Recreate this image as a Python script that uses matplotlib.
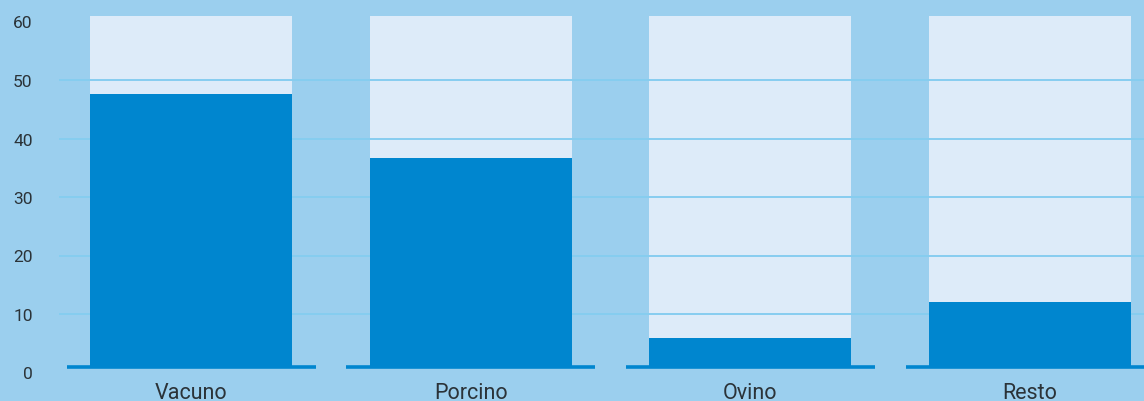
import numpy as np
import matplotlib
matplotlib.use("Agg")
import matplotlib.pyplot as plt

# data
categories = ["Vacuno", "Porcino", "Ovino", "Resto"]
values = [47.6, 36.7, 5.9, 12.0]
full = 61        # light background bars
base = 0.95      # where bars sit (baseline)
yticks = [0, 10, 20, 30, 40, 50, 60]
grid_vals = [10, 20, 30, 40, 50]

bg = "#9bcfee"
light = "#ddebf9"
dark = "#0086cf"
gridc = "#86cdf0"
txt = "#2b3338"

plt.rcParams['font.family'] = ['Roboto', 'DejaVu Sans']

W, H = 1144, 402
fig = plt.figure(figsize=(W/100, H/100), dpi=100, facecolor=bg)
left_px, bot_px = 59, 26
ax = fig.add_axes([left_px/W, bot_px/H, 1 - left_px/W, 1 - bot_px/H])
ax.set_facecolor(bg)

step = 279.7
c0 = 191
ax.set_xlim((left_px - c0)/step, (W - c0)/step)
ppu = 5.85
zero_px = 373.5
ax.set_ylim((zero_px - (H - bot_px))/ppu, zero_px/ppu)

x = np.arange(len(categories))
bw = 202/step
ax.bar(x, [full - base]*len(x), bottom=base, width=bw, color=light, zorder=1)
for g in grid_vals:
    ax.axhline(g, color=gridc, lw=1.4, zorder=2)
ax.bar(x, np.array(values) - base, bottom=base, width=bw, color=dark, zorder=3)
seg = 249/step
ax.hlines([base]*len(x), x - seg/2, x + seg/2, color=dark, lw=2.6, zorder=4, clip_on=False)

for s in ax.spines.values():
    s.set_visible(False)
ax.set_xticks(x)
ax.set_xticklabels(categories, fontsize=15.5, color=txt)
ax.tick_params(axis='x', length=0, pad=5)
ax.set_yticks(yticks)
ax.set_yticklabels([str(v) for v in yticks], fontsize=12.5, color=txt)
ax.tick_params(axis='y', length=0, pad=19)

fig.savefig("out.png", dpi=100, facecolor=bg)
